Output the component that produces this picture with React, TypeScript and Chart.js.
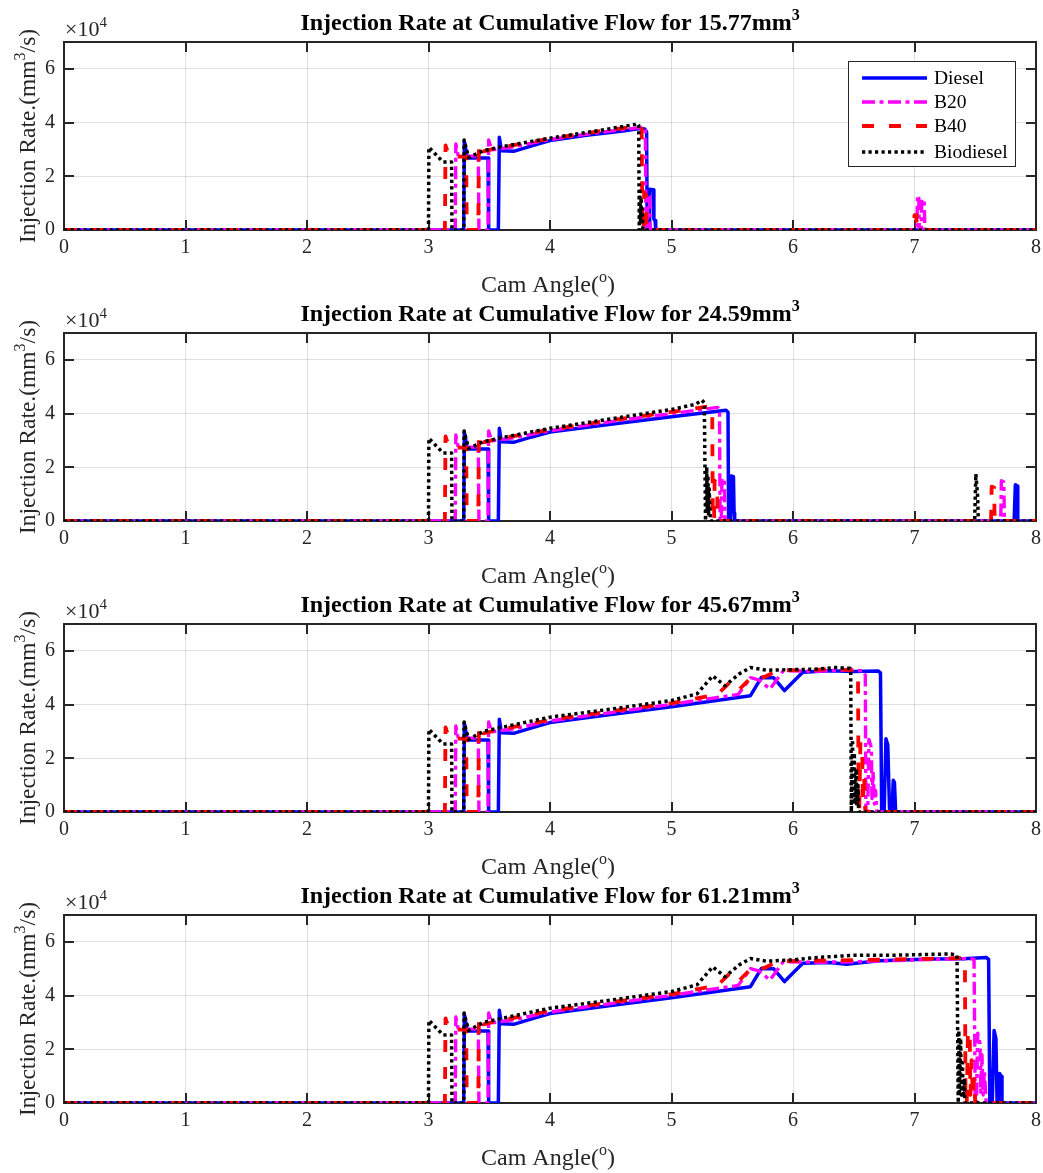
import React, { useEffect, useRef } from 'react';
import { Chart, registerables } from 'chart.js';

Chart.register(...registerables);

const FONT = '"Liberation Serif", "Times New Roman", serif';

// ---- axes / labels ----
const X_TICKS = [0, 1, 2, 3, 4, 5, 6, 7, 8];
const Y_TICKS = [0, 20000, 40000, 60000];
const Y_MAX = 70000;
const flowLabels = ['15.77', '24.59', '45.67', '61.21'];
const fuelNames = ['Diesel', 'B20', 'B40', 'Biodiesel'];
const fuelColors = ['#0000ff', '#ff00ff', '#ff0000', '#000000'];
const fuelDash: number[][] = [[], [13, 4.5, 4, 4.5], [12, 15], [3.2, 3.3]];
const fuelWidth = [3.5, 3.4, 3.8, 3.5];

// ---- needle opening (same for all four flows) ----
const dieselHeadX = [0, 3.29, 3.295, 3.32, 3.49, 3.495, 3.575, 3.583, 3.6, 3.7];
const dieselHeadY = [0, 0, 33000, 26800, 26800, 0, 0, 34500, 29500, 29300];
const b20HeadX = [0, 3.22, 3.225, 3.245, 3.41, 3.415, 3.49, 3.495, 3.52];
const b20HeadY = [0, 0, 32000, 27500, 27500, 0, 0, 33500, 29800];
const b40HeadX = [0, 3.135, 3.14, 3.17, 3.31, 3.315, 3.41, 3.415, 3.45];
const b40HeadY = [0, 0, 31500, 27300, 27300, 0, 0, 32500, 29300];
const bioHeadX = [0, 3.0, 3.003, 3.12, 3.19, 3.193, 3.29, 3.293, 3.33];
const bioHeadY = [0, 0, 30800, 25300, 25300, 0, 0, 33500, 27000];

// ---- flow 15.77 ----
const diesel1X = [3.85, 4.0, 4.3, 4.6, 4.74, 4.78, 4.795, 4.8, 4.815, 4.82, 4.85, 4.855, 4.865, 4.87, 8];
const diesel1Y = [31300, 33300, 35300, 36900, 37800, 37600, 36500, 0, 0, 15200, 15000, 4000, 3500, 0, 0];
const b20_1X = [3.7, 4.0, 4.4, 4.775, 4.785, 4.79, 4.8, 4.805, 4.82, 4.825, 7.02, 7.025, 7.035, 7.04, 7.055, 7.06, 7.08, 7.085, 8];
const b20_1Y = [31000, 33700, 36300, 38300, 37000, 0, 0, 13000, 12500, 0, 0, 13000, 12000, 0, 0, 11500, 11000, 0, 0];
const b40_1X = [3.6, 4.0, 4.4, 4.74, 4.755, 4.76, 4.77, 4.775, 4.79, 4.795, 6.995, 7.0, 7.015, 7.02, 8];
const b40_1Y = [30800, 34000, 36700, 38800, 37800, 0, 0, 14000, 13000, 0, 0, 5500, 5500, 0, 0];
const bio1X = [3.45, 3.6, 4.0, 4.4, 4.7, 4.72, 4.73, 4.735, 4.74, 4.745, 4.75, 4.755, 4.76, 4.765, 8];
const bio1Y = [29500, 31000, 34200, 37000, 39300, 39700, 39000, 0, 14500, 3000, 12000, 2000, 8000, 0, 0];

// ---- flow 24.59 ----
const diesel2X = [3.85, 4.0, 4.5, 5.0, 5.45, 5.465, 5.47, 5.485, 5.49, 5.51, 5.515, 5.52, 7.82, 7.83, 7.845, 7.85, 8];
const diesel2Y = [31300, 33100, 36000, 38800, 41200, 40500, 0, 0, 16800, 16500, 3000, 0, 0, 13500, 13000, 0, 0];
const b20_2X = [3.7, 4.0, 4.5, 5.0, 5.38, 5.395, 5.4, 5.41, 5.415, 5.435, 5.44, 7.71, 7.715, 7.735, 7.74, 8];
const b20_2Y = [31000, 33600, 37000, 40000, 42300, 41500, 0, 0, 16000, 15000, 0, 0, 15000, 14500, 0, 0];
const b40_2X = [3.6, 4.0, 4.5, 5.0, 5.32, 5.335, 5.34, 5.35, 5.355, 5.375, 5.38, 7.63, 7.635, 7.655, 7.66, 8];
const b40_2Y = [30800, 34000, 37500, 40600, 42800, 41500, 0, 0, 15000, 14000, 0, 0, 12800, 12500, 0, 0];
const bio2X = [3.45, 3.6, 4.0, 4.5, 5.0, 5.2, 5.25, 5.27, 5.28, 5.29, 5.295, 5.3, 5.305, 5.31, 5.32, 7.495, 7.505, 7.52, 7.525, 8];
const bio2Y = [29500, 31000, 34500, 38000, 41500, 43500, 45000, 44000, 0, 20000, 3000, 17000, 2000, 12000, 0, 0, 17500, 9000, 0, 0];

// ---- main rise shared by flows 45.67 and 61.21 ----
const dieselMidX = [3.85, 4.0, 4.5, 5.0, 5.65, 5.74, 5.84, 5.93, 6.08];
const dieselMidY = [31300, 33300, 36300, 39200, 43300, 50100, 50000, 45200, 52000];
const b20MidX = [3.7, 4.0, 4.5, 5.0, 5.55, 5.65, 5.72, 5.81, 5.92];
const b20MidY = [31000, 33900, 37000, 40100, 43800, 50000, 49200, 45800, 52600];
const b40MidX = [3.6, 4.0, 4.5, 5.0, 5.38, 5.48, 5.55, 5.67, 5.76, 5.88];
const b40MidY = [30800, 34300, 37500, 40500, 43800, 48300, 45300, 50700, 50200, 52800];
const bioMidX = [3.45, 3.6, 4.0, 4.5, 5.0, 5.21, 5.34, 5.44, 5.56, 5.65, 5.78];
const bioMidY = [30000, 31500, 35300, 38300, 41500, 44000, 50700, 47000, 51500, 53800, 52800];

// ---- flow 45.67 ----
const diesel3X = [6.3, 6.5, 6.7, 6.72, 6.73, 6.75, 6.765, 6.78, 6.795, 6.815, 6.825, 6.835, 6.845, 8];
const diesel3Y = [52600, 52300, 52500, 51800, 0, 0, 27300, 25000, 0, 0, 11800, 11000, 0, 0];
const b20_3X = [6.2, 6.4, 6.58, 6.595, 6.6, 6.615, 6.625, 6.645, 6.65, 6.66, 6.67, 6.68, 6.69, 8];
const b20_3Y = [52400, 52900, 52600, 51000, 0, 0, 27000, 24000, 5000, 15000, 3000, 8000, 0, 0];
const b40_3X = [6.1, 6.3, 6.52, 6.535, 6.54, 6.545, 6.555, 6.57, 6.575, 6.585, 6.595, 8];
const b40_3Y = [52800, 53200, 52800, 51500, 0, 0, 26000, 22000, 3000, 14000, 0, 0];
const bio3X = [6.0, 6.2, 6.35, 6.47, 6.475, 6.48, 6.49, 6.495, 6.505, 6.51, 6.52, 6.525, 6.535, 6.54, 8];
const bio3Y = [53000, 53200, 53800, 53500, 52000, 0, 27000, 4000, 22000, 3000, 16000, 2000, 10000, 0, 0];

// ---- flow 61.21 ----
const diesel4X = [6.3, 6.44, 6.71, 7.13, 7.4, 7.59, 7.61, 7.62, 7.64, 7.655, 7.67, 7.68, 7.69, 7.7, 7.712, 7.72, 8];
const diesel4Y = [52300, 51700, 53000, 53600, 53700, 54200, 53500, 0, 0, 27000, 24000, 0, 0, 11000, 10000, 0, 0];
const b20_4X = [6.2, 6.5, 6.8, 7.1, 7.45, 7.49, 7.5, 7.51, 7.52, 7.54, 7.545, 7.555, 7.565, 7.575, 7.59, 8];
const b20_4Y = [52400, 52600, 53000, 53400, 53800, 53500, 0, 0, 26000, 22000, 4000, 18000, 3000, 12000, 0, 0];
const b40_4X = [6.2, 6.5, 6.8, 7.1, 7.4, 7.415, 7.42, 7.43, 7.44, 7.455, 7.46, 7.47, 7.48, 7.49, 7.5, 8];
const b40_4Y = [53000, 53200, 53400, 53700, 54000, 53000, 0, 0, 27000, 24000, 3000, 16000, 2000, 9000, 0, 0];
const bio4X = [6.0, 6.2, 6.5, 6.8, 7.1, 7.3, 7.35, 7.36, 7.365, 7.37, 7.38, 7.385, 7.395, 7.4, 7.41, 7.415, 8];
const bio4Y = [53300, 54200, 55000, 55000, 55300, 55500, 55000, 0, 27000, 4000, 24000, 3000, 15000, 2000, 9000, 0, 0];

type XY = [number[], number[]];
// order: Diesel, B20, B40, Biodiesel
const panels: XY[][] = [
  [
    [dieselHeadX.concat(diesel1X), dieselHeadY.concat(diesel1Y)],
    [b20HeadX.concat(b20_1X), b20HeadY.concat(b20_1Y)],
    [b40HeadX.concat(b40_1X), b40HeadY.concat(b40_1Y)],
    [bioHeadX.concat(bio1X), bioHeadY.concat(bio1Y)],
  ],
  [
    [dieselHeadX.concat(diesel2X), dieselHeadY.concat(diesel2Y)],
    [b20HeadX.concat(b20_2X), b20HeadY.concat(b20_2Y)],
    [b40HeadX.concat(b40_2X), b40HeadY.concat(b40_2Y)],
    [bioHeadX.concat(bio2X), bioHeadY.concat(bio2Y)],
  ],
  [
    [dieselHeadX.concat(dieselMidX, diesel3X), dieselHeadY.concat(dieselMidY, diesel3Y)],
    [b20HeadX.concat(b20MidX, b20_3X), b20HeadY.concat(b20MidY, b20_3Y)],
    [b40HeadX.concat(b40MidX, b40_3X), b40HeadY.concat(b40MidY, b40_3Y)],
    [bioHeadX.concat(bioMidX, bio3X), bioHeadY.concat(bioMidY, bio3Y)],
  ],
  [
    [dieselHeadX.concat(dieselMidX, diesel4X), dieselHeadY.concat(dieselMidY, diesel4Y)],
    [b20HeadX.concat(b20MidX, b20_4X), b20HeadY.concat(b20MidY, b20_4Y)],
    [b40HeadX.concat(b40MidX, b40_4X), b40HeadY.concat(b40MidY, b40_4Y)],
    [bioHeadX.concat(bioMidX, bio4X), bioHeadY.concat(bioMidY, bio4Y)],
  ],
];

const CANVAS_W = 1043;
const CANVAS_H = 300;
const PANEL_STEP = 291;
const AXIS_COLOR = '#262626';

type Part = { t: string; sup?: boolean };

function drawRich(ctx: CanvasRenderingContext2D, parts: Part[], x: number, y: number, size: number, weight: string, align: 'center' | 'left') {
  const supSize = Math.round(size * 0.68);
  const fonts = parts.map((p) => `${weight} ${p.sup ? supSize : size}px ${FONT}`);
  let total = 0;
  const widths = parts.map((p, i) => {
    ctx.font = fonts[i];
    const w = ctx.measureText(p.t).width;
    total += w;
    return w;
  });
  let cx = align === 'center' ? x - total / 2 : x;
  ctx.textAlign = 'left';
  ctx.textBaseline = 'alphabetic';
  parts.forEach((p, i) => {
    ctx.font = fonts[i];
    ctx.fillText(p.t, cx, p.sup ? y - size * 0.42 : y);
    cx += widths[i];
  });
}

function makePlugin(index: number) {
  return {
    id: 'matlabDecor',
    beforeDatasetsDraw(chart: any) {
      const { ctx, chartArea: a, scales } = chart;
      const xs = scales.x;
      const ys = scales.y;
      ctx.save();
      ctx.strokeStyle = AXIS_COLOR;
      ctx.lineWidth = 2;
      ctx.beginPath();
      for (const t of X_TICKS) {
        const px = Math.round(xs.getPixelForValue(t));
        ctx.moveTo(px, a.bottom);
        ctx.lineTo(px, a.bottom - 10);
        ctx.moveTo(px, a.top);
        ctx.lineTo(px, a.top + 10);
      }
      for (const t of Y_TICKS) {
        const py = Math.round(ys.getPixelForValue(t));
        ctx.moveTo(a.left, py);
        ctx.lineTo(a.left + 10, py);
        ctx.moveTo(a.right, py);
        ctx.lineTo(a.right - 10, py);
      }
      ctx.stroke();
      ctx.strokeRect(a.left, a.top, a.right - a.left, a.bottom - a.top);
      ctx.restore();
    },
    afterDraw(chart: any) {
      const { ctx, chartArea: a } = chart;
      ctx.save();
      // title
      ctx.fillStyle = '#000';
      drawRich(ctx, [{ t: `Injection Rate at Cumulative Flow for ${flowLabels[index]}mm` }, { t: '3', sup: true }], (a.left + a.right) / 2, a.top - 12, 24, 'bold', 'center');
      // x label
      ctx.fillStyle = AXIS_COLOR;
      drawRich(ctx, [{ t: 'Cam Angle(' }, { t: 'o', sup: true }, { t: ')' }], (a.left + a.right) / 2 - 2, a.bottom + 62, 24, 'normal', 'center');
      // y label
      ctx.save();
      ctx.translate(27, (a.top + a.bottom) / 2);
      ctx.rotate(-Math.PI / 2);
      drawRich(ctx, [{ t: 'Injection Rate.(mm' }, { t: '3', sup: true }, { t: '/s)' }], 0, 8, 23.5, 'normal', 'center');
      ctx.restore();
      // exponent
      drawRich(ctx, [{ t: '\u00d710' }, { t: '4', sup: true }], a.left + 1, a.top - 6, 22, 'normal', 'left');

      if (index === 0) {
        const bx = 848, by = 61, bw = 167, bh = 105;
        ctx.fillStyle = '#ffffff';
        ctx.fillRect(bx, by, bw, bh);
        ctx.strokeStyle = AXIS_COLOR;
        ctx.lineWidth = 1;
        ctx.strokeRect(bx + 0.5, by + 0.5, bw, bh);
        const rows = [78, 102, 126, 152];
        fuelNames.forEach((name, i) => {
          ctx.save();
          ctx.strokeStyle = fuelColors[i];
          ctx.lineWidth = fuelWidth[i];
          ctx.setLineDash(fuelDash[i]);
          ctx.beginPath();
          ctx.moveTo(862, rows[i]);
          ctx.lineTo(927, rows[i]);
          ctx.stroke();
          ctx.restore();
          ctx.fillStyle = '#000';
          ctx.font = `19.5px ${FONT}`;
          ctx.textAlign = 'left';
          ctx.textBaseline = 'middle';
          ctx.fillText(name, 934, rows[i] + 1);
        });
      }
      ctx.restore();
    },
  };
}

function buildConfig(index: number): any {
  const series = panels[index];
  const order = [3, 2, 1, 0]; // Biodiesel drawn last (on top)
  const datasets = order.map((f) => ({
    label: fuelNames[f],
    data: series[f][0].map((x, i) => ({ x, y: series[f][1][i] })),
    borderColor: fuelColors[f],
    borderWidth: fuelWidth[f],
    borderDash: fuelDash[f],
    borderCapStyle: 'butt',
    borderJoinStyle: 'round',
    pointRadius: 0,
    fill: false,
    tension: 0,
  }));
  return {
    type: 'line',
    data: { datasets },
    plugins: [makePlugin(index)],
    options: {
      animation: false,
      responsive: false,
      maintainAspectRatio: false,
      devicePixelRatio: 1,
      events: [],
      layout: { padding: { top: 42, right: 7, left: 0, bottom: 0 } },
      plugins: { legend: { display: false }, tooltip: { enabled: false }, title: { display: false } },
      scales: {
        x: {
          type: 'linear',
          min: 0,
          max: 8,
          afterBuildTicks: (s: any) => {
            s.ticks = X_TICKS.map((v) => ({ value: v }));
          },
          afterFit: (s: any) => {
            s.height = 70;
            s.paddingLeft = 0;
            s.paddingRight = 0;
          },
          ticks: { color: AXIS_COLOR, font: { family: FONT, size: 20 }, padding: 6, maxRotation: 0, autoSkip: false },
          grid: { color: 'rgba(38,38,38,0.15)', lineWidth: 1, drawTicks: false },
          border: { display: false },
        },
        y: {
          type: 'linear',
          min: 0,
          max: Y_MAX,
          afterBuildTicks: (s: any) => {
            s.ticks = Y_TICKS.map((v) => ({ value: v }));
          },
          afterFit: (s: any) => {
            s.width = 64;
            s.paddingTop = 0;
            s.paddingBottom = 0;
          },
          ticks: { color: AXIS_COLOR, font: { family: FONT, size: 20 }, padding: 9, callback: (v: number) => String(v / 10000) },
          grid: { color: 'rgba(38,38,38,0.15)', lineWidth: 1, drawTicks: false },
          border: { display: false },
        },
      },
    },
  };
}

function Panel({ index }: { index: number }) {
  const ref = useRef<HTMLCanvasElement>(null);
  useEffect(() => {
    const chart = new Chart(ref.current as HTMLCanvasElement, buildConfig(index));
    return () => chart.destroy();
  }, [index]);
  return (
    <canvas
      ref={ref}
      width={CANVAS_W}
      height={CANVAS_H}
      style={{ position: 'absolute', left: 0, top: index * PANEL_STEP, width: CANVAS_W, height: CANVAS_H }}
    />
  );
}

export default function App() {
  return (
    <div style={{ position: 'absolute', left: 0, top: 0, width: 1043, height: 1173, background: '#ffffff', overflow: 'hidden' }}>
      {[0, 1, 2, 3].map((i) => (
        <Panel key={i} index={i} />
      ))}
    </div>
  );
}
